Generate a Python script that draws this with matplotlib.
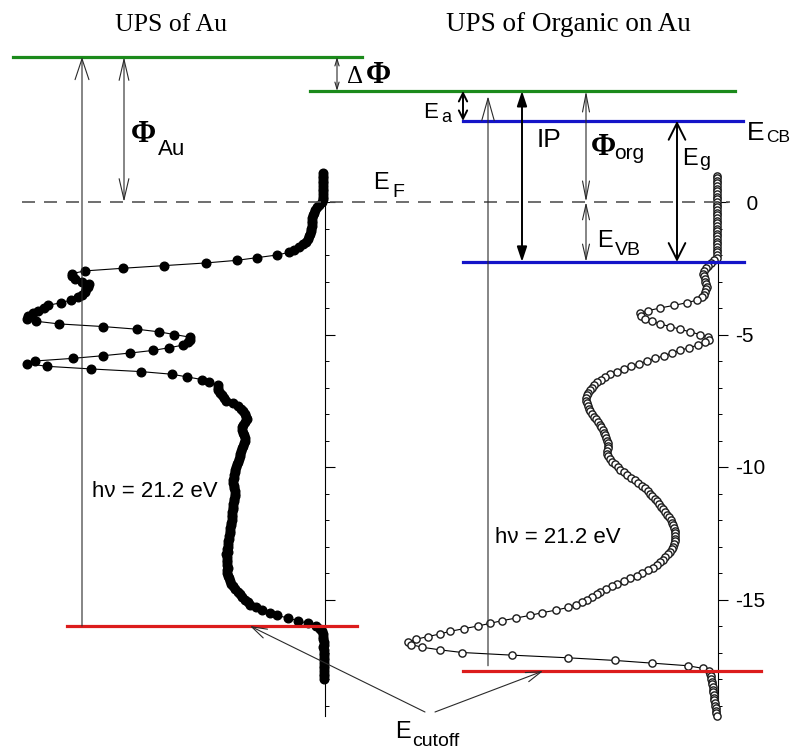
import numpy as np
import matplotlib
matplotlib.use("Agg")
import matplotlib.pyplot as plt
from matplotlib.patches import FancyArrowPatch
from matplotlib.transforms import Affine2D
from matplotlib.ticker import FixedLocator, FuncFormatter

# ---------------------------------------------------------------------------
# Energy levels (eV, referenced to the Fermi level E_F = 0)
# ---------------------------------------------------------------------------
vac_au = 5.47        # vacuum level over clean Au
vac_org = 4.19       # vacuum level over the organic film
e_cb = 3.06          # conduction band (LUMO) edge
e_vb = -2.26         # valence band (HOMO) edge
e_fermi = 0.0
cutoff_au = -16.0    # secondary electron cutoff, Au
cutoff_org = -17.7   # secondary electron cutoff, organic on Au
photon = "h\u03bd = 21.2 eV"

# ---------------------------------------------------------------------------
# UPS spectra, 0.1 eV steps (intensity in arbitrary units)
# ---------------------------------------------------------------------------
au_start = 1.1
au_intensity = [
    0.6, 0.6, 0.7, 0.7, 0.6, 0.7, 0.7, 0.6, 0.7, 0.7, 0.8,
    1.0, 2.0, 2.7, 3.3, 3.8, 4.0, 4.2, 4.3, 4.3, 4.5,
    4.7, 4.8, 5.0, 5.3, 5.7, 6.3, 7.3, 8.7, 10.3, 12.0,
    16.0, 22.7, 29.3, 39.7, 53.7, 67.3, 80.0, 84.3, 84.3, 83.3,
    81.0, 78.7, 79.0, 79.7, 80.0, 81.0, 82.3, 84.7, 88.0, 92.3,
    93.7, 95.7, 97.3, 99.0, 99.3, 96.3, 88.7, 74.0, 62.7, 55.3,
    50.3, 45.0, 45.0, 45.7, 47.3, 52.0, 57.3, 65.0, 74.0, 84.0,
    96.7, 99.3, 92.7, 78.0, 61.3, 51.0, 46.0, 41.0, 38.7, 35.7,
    35.7, 35.7, 35.0, 34.3, 33.7, 33.0, 30.7, 29.0, 28.0, 27.3,
    26.7, 26.3, 26.0, 26.7, 27.3, 27.7, 27.7, 27.3, 27.0, 26.7,
    26.7, 27.0, 27.3, 27.7, 28.0, 28.3, 28.3, 28.7, 29.0, 29.3,
    29.7, 30.0, 30.0, 30.3, 30.3, 30.7, 30.7, 30.3, 30.3, 30.0,
    30.0, 30.0, 30.3, 30.3, 30.7, 30.7, 30.8, 31.0, 31.0, 31.0,
    31.0, 31.3, 31.3, 31.7, 31.7, 31.7, 32.0, 32.0, 32.3, 32.3,
    32.3, 32.7, 32.5, 32.9, 32.7, 32.6, 32.8, 32.7, 32.5, 32.7,
    32.6, 32.3, 32.0, 31.7, 31.3, 30.7, 30.0, 29.0, 28.3, 27.7,
    26.7, 25.7, 25.0, 23.0, 21.0, 18.3, 16.0, 12.3, 9.0, 5.7,
    3.0, 1.7, 1.0, 0.7, 0.6, 0.6, 0.5, 0.5, 0.6, 0.5,
    0.5, 0.4, 0.5, 0.4, 0.4, 0.5, 0.4, 0.4, 0.3, 0.4,
    0.3,
]

org_start = 1.0
org_intensity = [
    0.2, 0.2, 0.2, 0.2, 0.2, 0.2, 0.2, 0.2, 0.2, 0.2,
    0.2, 0.2, 0.2, 0.2, 0.2, 0.2, 0.2, 0.2, 0.2, 0.2,
    0.2, 0.2, 0.2, 0.2, 0.2, 0.2, 0.2, 0.2, 0.2, 0.2,
    0.2, 0.3, 1.3, 2.3, 3.3, 4.0, 4.7, 5.0, 4.7, 4.3,
    4.3, 4.0, 3.7, 4.0, 4.3, 4.7, 5.3, 7.0, 10.3, 14.7,
    19.3, 23.3, 26.0, 25.7, 24.3, 22.0, 19.3, 16.0, 12.7, 9.3,
    6.0, 3.3, 3.0, 4.3, 6.7, 9.7, 12.7, 15.3, 18.0, 21.0,
    23.7, 26.3, 29.0, 31.3, 33.7, 36.0, 37.7, 39.0, 40.3, 41.3,
    42.0, 42.7, 43.3, 43.7, 44.0, 44.0, 43.7, 43.3, 43.0, 42.7,
    42.0, 41.3, 40.7, 40.0, 39.3, 39.0, 38.3, 38.0, 37.7, 37.3,
    37.0, 36.7, 36.7, 36.7, 37.0, 37.0, 36.7, 36.0, 35.3, 34.3,
    33.3, 32.7, 31.3, 30.3, 29.0, 27.7, 26.7, 25.3, 24.3, 23.3,
    22.7, 22.0, 21.0, 20.3, 19.7, 19.0, 18.3, 17.7, 17.0, 16.3,
    15.7, 15.3, 15.0, 14.7, 14.3, 14.3, 14.3, 14.3, 14.3, 14.7,
    15.0, 15.3, 16.0, 16.7, 17.7, 18.3, 19.3, 20.3, 21.7, 23.3,
    25.3, 27.0, 29.3, 31.3, 33.7, 35.3, 37.3, 39.3, 40.3, 42.0,
    43.7, 45.3, 47.3, 50.0, 54.0, 58.7, 62.7, 67.3, 72.0, 76.0,
    80.0, 84.7, 89.3, 92.7, 96.7, 100.7, 103.3, 102.3, 98.7, 92.7,
    85.3, 68.7, 50.0, 34.3, 22.0, 10.0, 5.0, 3.0, 2.7, 2.3,
    2.3, 2.0, 2.0, 1.7, 1.7, 1.7, 1.3, 1.3, 1.3, 1.0,
    1.0, 0.7, 0.7, 0.7, 0.3,
]

au_energy = au_start - 0.1 * np.arange(len(au_intensity))
org_energy = org_start - 0.1 * np.arange(len(org_intensity))

major_ticks = [0, -5, -10, -15]
minor_ticks = [t for t in range(0, -20, -1) if t % 5]

# ---------------------------------------------------------------------------
# Figure layout
# ---------------------------------------------------------------------------
W, H = 796, 749
E_TOP, E_BOT = 202 / 26.5, (202 - H) / 26.5
SANS = "Liberation Sans"
SERIF = "Liberation Serif"
GREEN, BLUE, RED = "#1b8a1b", "#1414c8", "#dc1c1c"

fig = plt.figure(figsize=(W / 100, H / 100), dpi=100)
fig.patch.set_facecolor("white")


def spectrum_axes(left, right, labels):
    ax = fig.add_axes([left / W, 0, (right - left) / W, 1])
    ax.set_ylim(E_BOT, E_TOP)
    ax.set_xlim((right - left) / 3.0, 0)
    ax.patch.set_visible(False)
    for side in ("left", "top", "bottom"):
        ax.spines[side].set_visible(False)
    ax.spines["right"].set_bounds(-19.4, 1.0)
    ax.spines["right"].set_linewidth(0.8)
    ax.xaxis.set_visible(False)
    ax.yaxis.tick_right()
    ax.yaxis.set_major_locator(FixedLocator(major_ticks))
    ax.yaxis.set_minor_locator(FixedLocator(minor_ticks))
    ax.yaxis.set_major_formatter(
        FuncFormatter(lambda v, p: f"{v:.0f}" if v else "  0"))
    ax.tick_params(axis="y", which="major", direction="out", length=7.2,
                   width=0.8, pad=5, labelsize=15, labelright=labels)
    ax.tick_params(axis="y", which="minor", direction="out", length=3,
                   width=0.7)
    for lab in ax.get_yticklabels():
        lab.set_fontfamily(SANS)
    return ax


ax_au = spectrum_axes(0, 325, False)
ax_au.plot(au_intensity, au_energy, "-o", color="black", lw=0.8, ms=6.2,
           mfc="black", mec="black", clip_on=False, zorder=3)

ax_org = spectrum_axes(393, 718, True)
ax_org.plot(org_intensity, org_energy, "-o", color="black", lw=0.8, ms=5.2,
            mfc="white", mec="#1a1a1a", mew=1.0, clip_on=False, zorder=3)

# overlay: x in pixels, y in eV
ov = fig.add_axes([0, 0, 1, 1])
ov.set_xlim(0, W)
ov.set_ylim(E_BOT, E_TOP)
ov.axis("off")
px = Affine2D().scale(1 / W, -1 / H).translate(0, 1) + fig.transFigure


def ev(ypix):
    return (202 - ypix) / 26.5


# Fermi level
ov.plot([22, 730], [e_fermi, e_fermi], color="#555555", lw=1.2,
        dashes=(7.8, 5.4), zorder=1)

# energy level lines
lw_lv = 2.3
ov.plot([13, 362], [vac_au, vac_au], color=GREEN, lw=lw_lv, zorder=4)
ov.plot([310, 735], [vac_org, vac_org], color=GREEN, lw=lw_lv, zorder=4)
ov.plot([463, 743], [e_cb, e_cb], color=BLUE, lw=lw_lv, zorder=4)
ov.plot([463, 744], [e_vb, e_vb], color=BLUE, lw=lw_lv, zorder=2)
ov.plot([67, 357], [cutoff_au, cutoff_au], color=RED, lw=lw_lv, zorder=2)
ov.plot([463, 761], [cutoff_org, cutoff_org], color=RED, lw=lw_lv, zorder=2)


def arrow(p0, p1, style, color="#2a2a2a", lw=0.8):
    ov.add_patch(FancyArrowPatch(p0, p1, arrowstyle=style, color=color,
                                 lw=lw, shrinkA=0, shrinkB=0,
                                 mutation_scale=10, zorder=5))


# photon energy spans
arrow((82, cutoff_au), (82, vac_au), "->,head_length=1.5,head_width=0.5")
arrow((488, cutoff_org + 0.2), (488, vac_org - 0.2),
      "->,head_length=1.6,head_width=0.45")
# work functions and offsets
arrow((124, e_fermi), (124, vac_au), "<->,head_length=1.5,head_width=0.35")
arrow((337, vac_org), (337, vac_au), "<->,head_length=0.5,head_width=0.15")
arrow((586, e_fermi), (586, vac_org), "<->,head_length=1.3,head_width=0.25")
arrow((586, e_vb), (586, e_fermi), "<->,head_length=1.1,head_width=0.25")
arrow((463, e_cb), (463, vac_org), "<->,head_length=0.6,head_width=0.3",
      color="black", lw=1.4)
arrow((522, e_vb), (522, vac_org), "<|-|>,head_length=0.9,head_width=0.3",
      color="black", lw=1.4)
arrow((677, e_vb), (677, e_cb), "<->,head_length=1.2,head_width=0.6",
      color="black", lw=1.4)
# cutoff pointers
arrow((425, ev(712)), (250, cutoff_au), "->,head_length=1.1,head_width=0.35")
arrow((435, ev(712)), (543, cutoff_org), "->,head_length=1.1,head_width=0.35")


def label(x, y, s, size, family=SANS, **kw):
    fig.text(x, y, s, transform=px, fontsize=size, family=family,
             va="baseline", ha="left", **kw)


# titles
fig.text(171, 31, "UPS of Au", transform=px, fontsize=18.5, family=SERIF,
         ha="center", va="baseline")
fig.text(568, 31, "UPS of Organic on Au", transform=px, fontsize=19.5,
         family=SERIF, ha="center", va="baseline")

label(131, 142, "\u03a6", 22, SERIF, fontweight="bold")
label(158, 155, "Au", 16)
label(347, 83, "\u0394", 18, SERIF)
label(366, 83, "\u03a6", 22, SERIF, fontweight="bold")
label(373, 189, "E", 17)
label(392, 197, "F", 14)
label(423, 118, "E", 16)
label(441, 122, "a", 13)
label(537, 147, "IP", 19)
label(591, 155, "\u03a6", 22, SERIF, fontweight="bold")
label(614, 159, "org", 15)
label(597, 247, "E", 17)
label(615, 255, "VB", 14)
label(682, 165, "E", 17)
label(699, 166, "g", 14)
label(747, 140, "E", 19)
label(766, 142, "CB", 12.5)
label(92, 497, photon, 16)
label(495, 543, photon, 16)
label(395, 738, "E", 17)
label(412, 746, "cutoff", 14)

fig.savefig("out.png", dpi=100, facecolor="white")
